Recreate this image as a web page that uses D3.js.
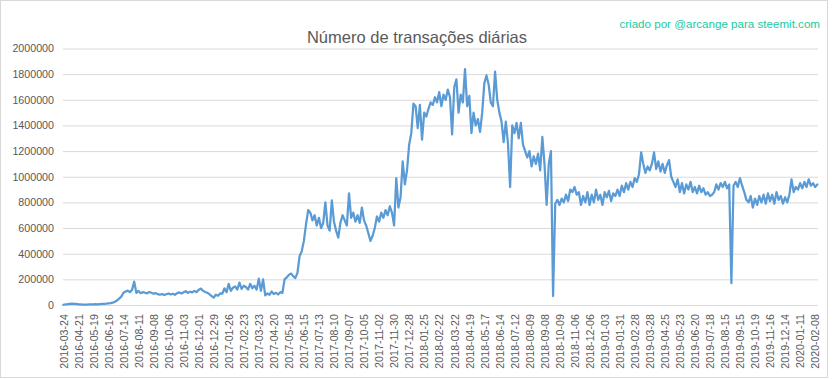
<!DOCTYPE html>
<html>
<head>
<meta charset="utf-8">
<script src="https://cdn.jsdelivr.net/npm/d3@7"></script>
<style>
  html, body { margin: 0; padding: 0; background: #ffffff; }
  svg { display: block; }
</style>
</head>
<body>
<div id="chart"></div>
<script>
// ---- Data ----
const chartTitle = "Número de transações diárias";
const creditText = "criado por @arcange para steemit.com";

// Category labels shown on the x axis (every 28th day of data)
const xTickLabels = [
  "2016-03-24","2016-04-21","2016-05-19","2016-06-16","2016-07-14","2016-08-11","2016-09-08",
  "2016-10-06","2016-11-03","2016-12-01","2016-12-29","2017-01-26","2017-02-23","2017-03-23",
  "2017-04-20","2017-05-18","2017-06-15","2017-07-13","2017-08-10","2017-09-07","2017-10-05",
  "2017-11-02","2017-11-30","2017-12-28","2018-01-25","2018-02-22","2018-03-22","2018-04-19",
  "2018-05-17","2018-06-14","2018-07-12","2018-08-09","2018-09-08","2018-10-09","2018-11-06",
  "2018-12-06","2019-01-03","2019-01-31","2019-02-28","2019-03-28","2019-04-25","2019-05-23",
  "2019-06-20","2019-07-18","2019-08-15","2019-09-15","2019-10-19","2019-11-16","2019-12-14",
  "2020-01-11","2020-02-08"
];
// samples between two labelled categories
const samplesPerLabel = 7;

const transactions = [
  2000,4000,6000,9000,10000,9000,8000,5000,4000,3000,3000,3000,4000,4000,5000,6000,5000,7000,
  8000,9000,10000,12000,14000,18000,25000,35000,50000,65000,95000,105000,112000,100000,118000,182000,
  95000,110000,92000,100000,96000,90000,102000,95000,88000,92000,85000,80000,86000,78000,84000,90000,
  82000,88000,80000,92000,98000,90000,100000,108000,95000,103000,98000,110000,100000,118000,128000,
  112000,102000,95000,85000,70000,58000,80000,72000,90000,88000,130000,100000,165000,110000,135000,
  145000,120000,175000,125000,150000,140000,120000,165000,130000,150000,120000,205000,110000,200000,
  75000,90000,80000,105000,85000,95000,82000,100000,95000,200000,215000,235000,245000,225000,210000,
  250000,380000,420000,500000,630000,740000,720000,660000,700000,620000,680000,600000,640000,800000,
  620000,580000,815000,650000,580000,525000,640000,700000,660000,620000,870000,680000,720000,650000,
  700000,640000,760000,660000,620000,560000,500000,540000,600000,690000,650000,720000,680000,740000,
  700000,770000,720000,620000,990000,760000,840000,1120000,940000,1050000,1250000,1340000,1570000,
  1550000,1380000,1560000,1290000,1500000,1470000,1530000,1580000,1560000,1620000,1580000,1660000,
  1550000,1640000,1600000,1680000,1620000,1330000,1700000,1760000,1500000,1640000,1580000,1840000,
  1550000,1630000,1340000,1500000,1400000,1450000,1350000,1500000,1730000,1790000,1720000,1580000,
  1550000,1820000,1600000,1500000,1430000,1270000,1430000,1260000,920000,1400000,1340000,1420000,
  1300000,1420000,1250000,1200000,1150000,1200000,1080000,1160000,1100000,1180000,1050000,1310000,
  1100000,780000,1100000,1200000,70000,790000,820000,780000,830000,800000,860000,810000,900000,
  880000,920000,860000,880000,780000,850000,800000,880000,780000,860000,800000,900000,820000,860000,
  780000,880000,840000,890000,810000,870000,850000,900000,850000,930000,880000,950000,900000,960000,
  920000,990000,960000,1020000,1190000,1100000,1030000,1080000,1050000,1100000,1190000,1060000,
  1120000,1040000,1100000,1030000,1090000,1130000,1000000,960000,920000,980000,880000,950000,870000,
  940000,900000,960000,880000,920000,870000,930000,880000,910000,860000,880000,850000,860000,880000,
  940000,900000,950000,920000,960000,910000,940000,170000,930000,960000,920000,990000,930000,880000,
  820000,800000,850000,760000,830000,780000,850000,800000,860000,790000,870000,810000,860000,790000,
  880000,820000,850000,790000,840000,800000,860000,980000,880000,920000,900000,950000,910000,960000,
  920000,980000,930000,950000,920000,940000
];

const yTickValues = [0,200000,400000,600000,800000,1000000,1200000,1400000,1600000,1800000,2000000];

// ---- Layout ----
const W = 833, H = 379;
const plot = { left: 63, right: 818, top: 48.5, bottom: 305 };

const svg = d3.select("#chart").append("svg")
  .attr("width", W).attr("height", H)
  .style("font-family", "'Liberation Sans', Arial, sans-serif");

// chart frame
svg.append("rect")
  .attr("x", 0.5).attr("y", 0.5)
  .attr("width", 827).attr("height", 377)
  .attr("fill", "#ffffff").attr("stroke", "#d9d9d9").attr("stroke-width", 1);

const x = d3.scaleLinear()
  .domain([0, transactions.length - 1])
  .range([plot.left + 0.3, plot.right - 0.7]);

const y = d3.scaleLinear()
  .domain([0, 2000000])
  .range([plot.bottom, plot.top]);

// y axis with gridlines
const yAxis = svg.append("g")
  .attr("transform", `translate(${plot.left},0)`)
  .call(d3.axisLeft(y).tickValues(yTickValues)
    .tickSize(-(plot.right - plot.left)).tickPadding(9)
    .tickFormat(d3.format("d")));
yAxis.select(".domain").remove();
yAxis.selectAll(".tick line").attr("stroke", "#d9d9d9").attr("stroke-width", 1);
yAxis.selectAll(".tick text")
  .attr("fill", "#595959").style("font-size", "10.7px");

// x axis (category labels)
const tickIdx = xTickLabels.map((_, j) => j * samplesPerLabel);
const xAxis = svg.append("g")
  .attr("transform", `translate(0,${plot.bottom})`)
  .call(d3.axisBottom(x).tickValues(tickIdx).tickSize(0)
    .tickFormat(i => xTickLabels[Math.round(i / samplesPerLabel)]));
xAxis.select(".domain")
  .attr("d", `M${plot.left},0.5H${plot.right}`)
  .attr("stroke", "#d9d9d9");
xAxis.selectAll(".tick text")
  .attr("fill", "#595959").style("font-size", "10.7px")
  .attr("transform", "rotate(-90)")
  .attr("text-anchor", "end")
  .attr("x", -9).attr("y", 0).attr("dy", "0.35em");

// line
const line = d3.line()
  .x((d, i) => x(i))
  .y(d => y(d));
svg.append("path")
  .datum(transactions)
  .attr("fill", "none")
  .attr("stroke", "#5b9bd5")
  .attr("stroke-width", 2.25)
  .attr("stroke-linejoin", "round")
  .attr("stroke-linecap", "round")
  .attr("d", line);

// title
svg.append("text")
  .attr("x", 417).attr("y", 43)
  .attr("text-anchor", "middle")
  .attr("fill", "#595959")
  .style("font-size", "16.5px")
  .text(chartTitle);

// credit
svg.append("text")
  .attr("x", 820).attr("y", 28)
  .attr("text-anchor", "end")
  .attr("fill", "#22c9a0")
  .style("font-size", "11.6px")
  .text(creditText);
</script>
</body>
</html>
